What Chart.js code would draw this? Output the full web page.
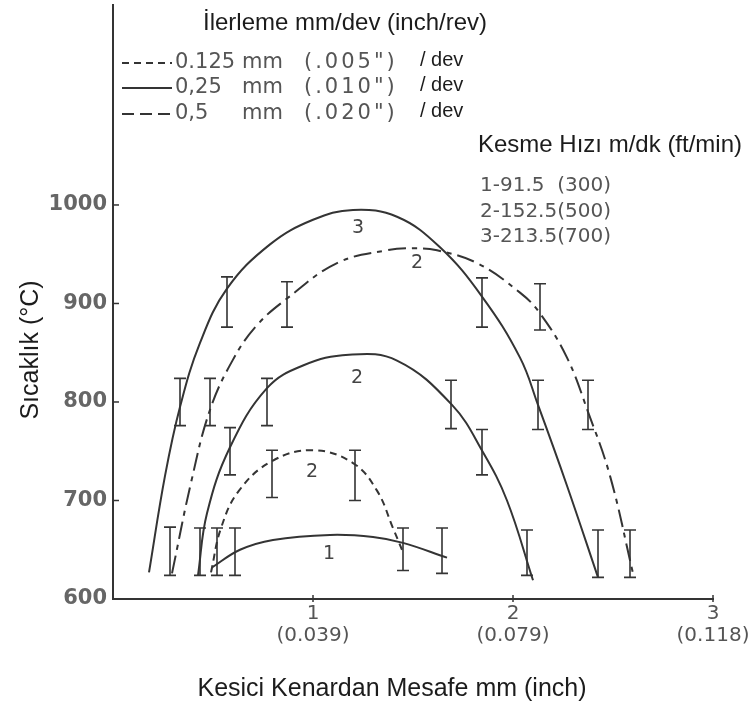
<!DOCTYPE html>
<html>
<head>
<meta charset="utf-8">
<script src="https://cdn.jsdelivr.net/npm/chart.js@4.4.1/dist/chart.umd.min.js"></script>
<style>
  html, body { margin: 0; background: #fff; }
</style>
</head>
<body>
<canvas id="tempChart" width="753" height="717"></canvas>
<script>
// distance from cutting edge (mm) vs temperature (C)
const feed025Speed3X = [0.18, 0.26, 0.335, 0.435, 0.57, 0.785, 1.0, 1.2, 1.42, 1.635, 1.845, 2.035, 2.125, 2.27, 2.425];
const feed025Speed3Y = [627, 725, 795, 860, 915, 960, 985, 995, 988, 957, 907, 845, 797, 715, 622];

const feed05Speed2X = [0.295, 0.39, 0.485, 0.6, 0.72, 0.87, 1.12, 1.37, 1.5, 1.62, 1.82, 2.035, 2.135, 2.27, 2.375, 2.485, 2.6];
const feed05Speed2Y = [626, 718, 792, 843, 878, 905, 941, 954, 956, 954, 941, 911, 890, 845, 790, 725, 626];

const feed025Speed2X = [0.425, 0.47, 0.585, 0.77, 0.95, 1.18, 1.42, 1.695, 1.85, 1.97, 2.1];
const feed025Speed2Y = [624, 687, 754, 814, 837, 848, 842, 797, 749, 700, 619];

const feed0125Speed2X = [0.49, 0.54, 0.63, 0.795, 1.0, 1.2, 1.32, 1.4, 1.445];
const feed0125Speed2Y = [627, 672, 710, 740, 751, 738, 710, 672, 650];

const feed025Speed1X = [0.495, 0.635, 0.8, 1.085, 1.3, 1.45, 1.67];
const feed025Speed1Y = [632, 650, 660, 665, 663, 657, 642];

// scatter of the measurements (I bars)
const errorBarX = [0.57, 0.87, 1.845, 2.135, 0.335, 0.485, 0.77, 1.69, 2.125, 2.375, 0.585, 1.845, 0.795, 1.21, 0.285, 0.435, 0.52, 0.61, 1.45, 1.645, 2.07, 2.425, 2.585];
const errorBarLow = [876, 876, 876, 873, 776, 776, 776, 773, 772, 772, 726, 726, 703, 700, 624, 624, 624, 624, 629, 626, 624, 622, 622];
const errorBarHigh = [927, 922, 926, 920, 824, 824, 824, 822, 822, 822, 774, 772, 751, 751, 673, 672, 672, 672, 672, 672, 670, 670, 670];

// curve numbers (cutting speed index) written next to the curves
const curveLabelText = ['3', '2', '2', '2', '1'];
const curveLabelX = [1.225, 1.52, 1.22, 0.995, 1.08];
const curveLabelY = [977, 941, 824, 729, 646];

const xTicks = [1, 2, 3];
const xTickInch = ['(0.039)', '(0.079)', '(0.118)'];
const yTicks = [600, 700, 800, 900, 1000];

const feedLegend = [
  ['0.125', 'mm', '(.005")'],
  ['0,25', 'mm', '(.010")'],
  ['0,5', 'mm', '(.020")'],
];
const speedLegend = ['1-91.5  (300)', '2-152.5(500)', '3-213.5(700)'];

const inkColor = '#343434';
const greyText = '#555555';
const darkText = '#1c1c1c';

const solid = [];
const dashed = [7, 5];
const dashDot = [18, 6, 5, 6];

function toPoints(xs, ys) {
  return xs.map((v, i) => ({ x: v, y: ys[i] }));
}

function curve(xs, ys, dash) {
  return {
    data: toPoints(xs, ys),
    showLine: true,
    borderColor: inkColor,
    borderWidth: 2,
    borderDash: dash,
    pointRadius: 0,
    tension: 0.4,
    fill: false,
  };
}

const overlayPlugin = {
  id: 'overlay',
  afterDatasetsDraw(chart) {
    const { ctx, scales: { x, y } } = chart;
    ctx.save();

    // error bars
    ctx.strokeStyle = inkColor;
    ctx.lineWidth = 1.6;
    errorBarX.forEach((v, i) => {
      const px = x.getPixelForValue(v);
      const top = y.getPixelForValue(errorBarHigh[i]);
      const bot = y.getPixelForValue(errorBarLow[i]);
      ctx.beginPath();
      ctx.moveTo(px, top); ctx.lineTo(px, bot);
      ctx.moveTo(px - 6, top); ctx.lineTo(px + 6, top);
      ctx.moveTo(px - 6, bot); ctx.lineTo(px + 6, bot);
      ctx.stroke();
    });

    // small inward tick marks
    ctx.lineWidth = 1.5;
    yTicks.forEach(v => {
      const py = y.getPixelForValue(v);
      ctx.beginPath();
      ctx.moveTo(x.left, py); ctx.lineTo(x.left + 6, py);
      ctx.stroke();
    });
    xTicks.forEach(v => {
      const px = x.getPixelForValue(v);
      ctx.beginPath();
      ctx.moveTo(px, y.bottom - 4); ctx.lineTo(px, y.bottom + 3);
      ctx.stroke();
    });

    // curve numbers
    ctx.fillStyle = '#444';
    ctx.font = '19px "DejaVu Sans"';
    ctx.textAlign = 'center';
    ctx.textBaseline = 'middle';
    curveLabelText.forEach((t, i) => {
      ctx.fillText(t, x.getPixelForValue(curveLabelX[i]), y.getPixelForValue(curveLabelY[i]));
    });
    ctx.restore();
  },
  afterDraw(chart) {
    const { ctx } = chart;
    ctx.save();
    ctx.textBaseline = 'middle';

    // feed legend
    ctx.fillStyle = darkText;
    ctx.font = '24px "Liberation Sans"';
    ctx.textAlign = 'left';
    ctx.fillText('İlerleme mm/dev (inch/rev)', 203, 23);

    const rowY = [63, 88, 114];
    const dashes = [dashed, solid, [12, 6]];
    ctx.strokeStyle = inkColor;
    ctx.lineWidth = 2;
    rowY.forEach((ry, i) => {
      ctx.setLineDash(dashes[i]);
      ctx.beginPath();
      ctx.moveTo(122, ry); ctx.lineTo(172, ry);
      ctx.stroke();
      ctx.setLineDash([]);
      ctx.fillStyle = greyText;
      ctx.font = '21px "DejaVu Sans"';
      ctx.fillText(feedLegend[i][0], 175, ry);
      ctx.fillText(feedLegend[i][1], 242, ry);
      ctx.letterSpacing = '3px';
      ctx.fillText(feedLegend[i][2], 304, ry);
      ctx.letterSpacing = '0px';
      ctx.fillStyle = darkText;
      ctx.font = '20px "Liberation Sans"';
      ctx.fillText('/ dev', 420, ry - 3);
    });

    // cutting speed legend
    ctx.fillStyle = darkText;
    ctx.font = '24px "Liberation Sans"';
    ctx.fillText('Kesme Hızı m/dk (ft/min)', 478, 145);
    ctx.fillStyle = greyText;
    ctx.font = '20px "DejaVu Sans"';
    speedLegend.forEach((t, i) => ctx.fillText(t, 480, 186 + i * 25.5));

    // axis titles
    ctx.fillStyle = darkText;
    ctx.font = '25px "Liberation Sans"';
    ctx.textAlign = 'center';
    ctx.fillText('Kesici Kenardan Mesafe mm (inch)', 392, 689);
    ctx.translate(31, 350);
    ctx.rotate(-Math.PI / 2);
    ctx.fillText('Sıcaklık (°C)', 0, 0);
    ctx.restore();
  }
};

const ctx = document.getElementById('tempChart').getContext('2d');
const tempChart = new Chart(ctx, {
  type: 'scatter',
  data: {
    datasets: [
      curve(feed025Speed3X, feed025Speed3Y, solid),
      curve(feed05Speed2X, feed05Speed2Y, dashDot),
      curve(feed025Speed2X, feed025Speed2Y, solid),
      curve(feed0125Speed2X, feed0125Speed2Y, dashed),
      curve(feed025Speed1X, feed025Speed1Y, solid),
    ]
  },
  options: {
    responsive: false,
    animation: false,
    layout: { padding: { top: 5, right: 40, left: 0, bottom: 0 } },
    plugins: {
      legend: { display: false },
      tooltip: { enabled: false },
    },
    scales: {
      x: {
        type: 'linear',
        min: 0,
        max: 3,
        afterBuildTicks: scale => { scale.ticks = xTicks.map(v => ({ value: v })); },
        afterFit: scale => { scale.height = 118; scale.paddingLeft = 0; scale.paddingRight = 0; },
        grid: { drawOnChartArea: false, drawTicks: false },
        border: { display: true, color: inkColor, width: 2 },
        ticks: {
          padding: 4,
          color: greyText,
          font: { family: 'DejaVu Sans', size: 20, lineHeight: 1.1 },
          maxRotation: 0,
          callback: (value, index) => [String(value), xTickInch[index]],
        },
      },
      y: {
        type: 'linear',
        min: 600,
        max: 1203,
        afterBuildTicks: scale => { scale.ticks = yTicks.map(v => ({ value: v })); },
        afterFit: scale => { scale.width = 113; scale.paddingTop = 0; scale.paddingBottom = 0; },
        grid: { drawOnChartArea: false, drawTicks: false },
        border: { display: true, color: inkColor, width: 2 },
        ticks: {
          padding: 6,
          color: '#666666',
          font: { family: 'DejaVu Sans', size: 21, weight: 'bold' },
          callback: value => String(value),
        },
      },
    },
  },
  plugins: [overlayPlugin],
});
</script>
</body>
</html>
